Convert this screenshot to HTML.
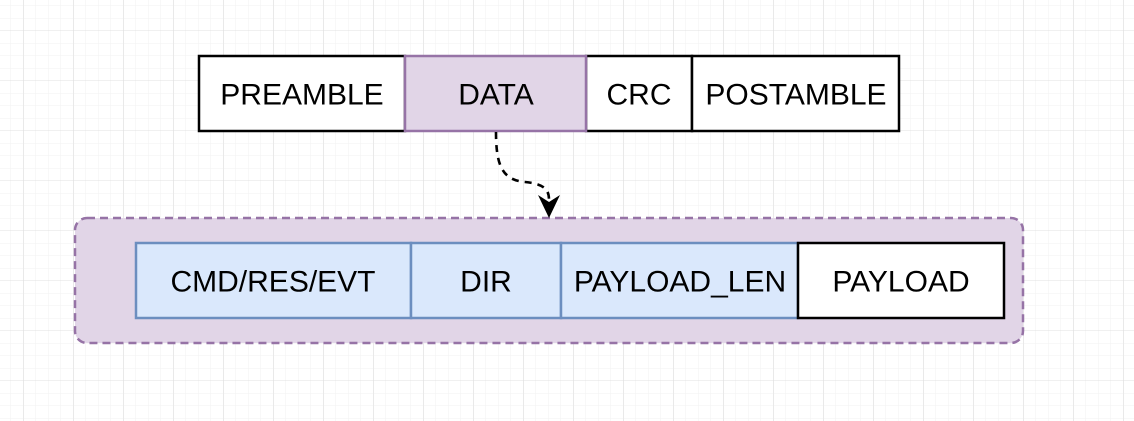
<!DOCTYPE html>
<html><head><style>
html,body{margin:0;padding:0;width:1134px;height:421px;overflow:hidden;background:#fff}
</style></head><body>
<svg width="1134" height="421" xmlns="http://www.w3.org/2000/svg">
<defs>
<pattern id="mi" width="12.5" height="12.5" patternUnits="userSpaceOnUse" x="10.5" y="5.5">
<path d="M0 0H12.5M0 0V12.5" stroke="#f2f2f2" stroke-width="1" fill="none"/></pattern>
<pattern id="ma" width="50" height="50" patternUnits="userSpaceOnUse" x="23.5" y="30.5">
<path d="M0 0H50M0 0V50" stroke="#e0e0e0" stroke-width="1" fill="none"/></pattern>
</defs>
<rect width="1134" height="421" fill="url(#mi)"/>
<rect width="1134" height="421" fill="url(#ma)"/>
<g font-family="Liberation Sans, sans-serif" font-size="30" text-anchor="middle" dominant-baseline="central" fill="#000">
<rect x="75" y="218" width="948" height="125" rx="12" fill="#e1d5e7" stroke="#9673a6" stroke-width="2.5" stroke-dasharray="8,5"/>
<rect x="199" y="56" width="206" height="75" fill="#fff" stroke="#000" stroke-width="2.5"/>
<rect x="586" y="56" width="106" height="75" fill="#fff" stroke="#000" stroke-width="2.5"/>
<rect x="692" y="56" width="207" height="75" fill="#fff" stroke="#000" stroke-width="2.5"/>
<rect x="405" y="56" width="181" height="75" fill="#e1d5e7" stroke="#9673a6" stroke-width="2.5"/>
<text x="302" y="95">PREAMBLE</text>
<text x="496" y="95">DATA</text>
<text x="639" y="95">CRC</text>
<text x="796" y="95">POSTAMBLE</text>
<rect x="136" y="243" width="275" height="75" fill="#dae8fc" stroke="#6c8ebf" stroke-width="2.5"/>
<rect x="411" y="243" width="150" height="75" fill="#dae8fc" stroke="#6c8ebf" stroke-width="2.5"/>
<rect x="561" y="243" width="237" height="75" fill="#dae8fc" stroke="#6c8ebf" stroke-width="2.5"/>
<rect x="798" y="243" width="206" height="75" fill="#fff" stroke="#000" stroke-width="2.5"/>
<text x="273" y="282">CMD/RES/EVT</text>
<text x="486" y="282">DIR</text>
<text x="680" y="282">PAYLOAD_LEN</text>
<text x="901" y="282">PAYLOAD</text>
</g>
<path d="M496,132 C496,165 502,180 525,182 C545,184 549,190 549,200" fill="none" stroke="#000" stroke-width="2.6" stroke-dasharray="7,6"/>
<path d="M538,195 L549,218 L560,195 L549,202 Z" fill="#000"/>
</svg>
</body></html>
